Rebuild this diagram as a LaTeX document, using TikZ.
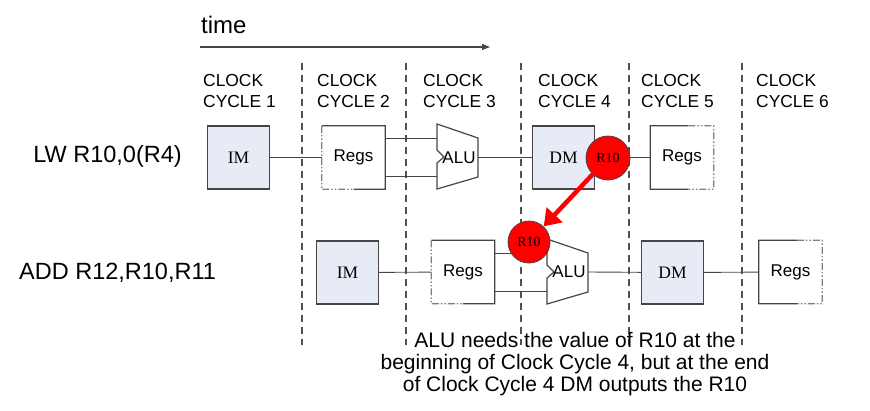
\documentclass[tikz,border=0pt]{standalone}
\usepackage{fontspec}
\setmainfont{Liberation Serif}
\setsansfont{Liberation Sans}
\usetikzlibrary{arrows.meta,calc}
\newcommand\fsz[2]{\fontsize{#1}{#2}\selectfont}
\newcommand\RegsRead[1]{%
  \draw[bord] ($(#1.south west)!0.5!(#1.south east)$) -- (#1.south east) -- (#1.north east) -- (#1.north west);
  \draw[bord,ddot] (#1.north west) -- (#1.south west) -- ($(#1.south west)!0.5!(#1.south east)$);}
\newcommand\RegsWrite[1]{%
  \draw[bord] ($(#1.north west)!0.6!(#1.north east)$) -- (#1.north west) -- (#1.south west) -- ($(#1.south west)!0.6!(#1.south east)$);
  \draw[bord,ddot] ($(#1.north west)!0.6!(#1.north east)$) -- (#1.north east) -- (#1.south east) -- ($(#1.south west)!0.6!(#1.south east)$);}
\definecolor{memfill}{HTML}{E6EBF5}
\definecolor{lineg}{HTML}{454545}
\definecolor{dashg}{HTML}{505050}
\tikzset{
  mem/.style={draw=lineg, fill=memfill, line width=1.3pt, minimum width=62pt, minimum height=63pt, inner sep=0pt, font=\fsz{17.5}{20}},
  regs/.style={minimum width=63pt, minimum height=63pt, inner sep=0pt, font=\sffamily\fsz{17}{20}},
  bord/.style={draw=lineg, line width=1.2pt},
  ddot/.style={draw=gray, dash pattern=on 7pt off 2pt on 1.5pt off 2pt on 1.5pt off 2pt},
  conn/.style={draw=lineg, line width=0.9pt},
  divider/.style={draw=dashg, line width=1.1pt, dash pattern=on 7pt off 5pt},
  cyc/.style={anchor=north west, inner sep=0pt, align=left, font=\sffamily\fsz{17.4}{21}},
  instr/.style={inner sep=0pt, font=\sffamily\fsz{23.5}{26}},
  alulbl/.style={inner sep=0pt, font=\sffamily\fsz{17}{20}},
  rcirc/.style={circle, draw=lineg, line width=0.8pt, fill=red, inner sep=0pt, font=\fsz{14}{16}},
  redarrow/.style={draw=red, line width=4.5pt, -{Triangle[length=16pt,width=21pt]}},
  alu/.pic={\draw[bord] (0,0) -- (41,14) -- (41,53) -- (0,65) -- (0,39) -- (7,33) -- (0,26) -- cycle;}
}
\begin{document}
\begin{tikzpicture}[x=1pt,y=-1pt]
\useasboundingbox (0,0) rectangle (870,410);
% time arrow
\node[anchor=base west, inner sep=0pt, font=\sffamily\fsz{24}{26}] (time) at (201,33) {time};
\coordinate (t0) at (200,47);
\coordinate (t1) at (490,47);
\draw[draw=lineg, line width=1.3pt, -{Triangle[length=8pt,width=6pt]}] (t0) -- (t1);
% clock cycle labels
\node[cyc] (c1) at (203,74.5) {CLOCK\\CYCLE 1};
\node[cyc] (c2) at (317,74.5) {CLOCK\\CYCLE 2};
\node[cyc] (c3) at (423,74.5) {CLOCK\\CYCLE 3};
\node[cyc] (c4) at (538,74.5) {CLOCK\\CYCLE 4};
\node[cyc] (c5) at (641,74.5) {CLOCK\\CYCLE 5};
\node[cyc] (c6) at (756,74.5) {CLOCK\\CYCLE 6};
% dividers
\foreach \xx in {302,406,521,629,742}
  \draw[divider] (\xx,63) -- (\xx,345);
% instruction labels
\node[instr, anchor=base] (lw) at (107.5,162) {LW R10,0(R4)};
\node[instr, anchor=base west] (add) at (19,279) {ADD R12,R10,R11};
% row 1
\node[mem] (im1) at (238.5,157.5) {IM};
\node[regs] (regs1) at (353.5,157.5) {Regs};
\RegsRead{regs1}
\pic at (437,124) {alu};
\node[alulbl] (alu1) at (459,157.5) {ALU};
\coordinate (a1i1) at (437,138);
\coordinate (a1i2) at (437,176);
\coordinate (a1o) at (478,157.5);
\node[mem] (dm1) at (563.5,157.5) {DM};
\node[regs] (regs5) at (682,157.5) {Regs};
\RegsWrite{regs5}
\draw[conn] (im1) -- (regs1);
\draw[conn] (regs1.east |- a1i1) -- (a1i1);
\draw[conn] (regs1.east |- a1i2) -- (a1i2);
\draw[conn] (a1o) -- (dm1);
\draw[conn] (dm1) -- (regs5);
% row 2
\node[mem] (im2) at (347.5,272.5) {IM};
\node[regs] (regs2) at (463,272) {Regs};
\RegsRead{regs2}
\pic at (547,239) {alu};
\node[alulbl] (alu2) at (569,272) {ALU};
\coordinate (a2i1) at (547,253);
\coordinate (a2i2) at (547,291);
\coordinate (a2o) at (588,272);
\node[mem] (dm2) at (672.5,272.5) {DM};
\node[regs] (regs6) at (790.5,272) {Regs};
\RegsWrite{regs6}
\draw[conn] (im2) -- (regs2);
\draw[conn] (regs2.east |- a2i1) -- (a2i1);
\draw[conn] (regs2.east |- a2i2) -- (a2i2);
\draw[conn] (a2o) -- (dm2);
\draw[conn] (dm2) -- (regs6);
% forwarding
\node[rcirc, minimum size=44pt] (r1) at (608,158) {R10};
\node[rcirc, minimum size=42pt] (r2) at (529,242) {R10};
\draw[redarrow] (r1) -- (r2);
% note
\node[anchor=north, inner sep=0pt, align=center, font=\sffamily\fsz{21}{22}] (note) at (575,332)
  {ALU needs the value of R10 at the\\beginning of Clock Cycle 4, but at the end\\of Clock Cycle 4 DM outputs the R10};
\end{tikzpicture}
\end{document}
